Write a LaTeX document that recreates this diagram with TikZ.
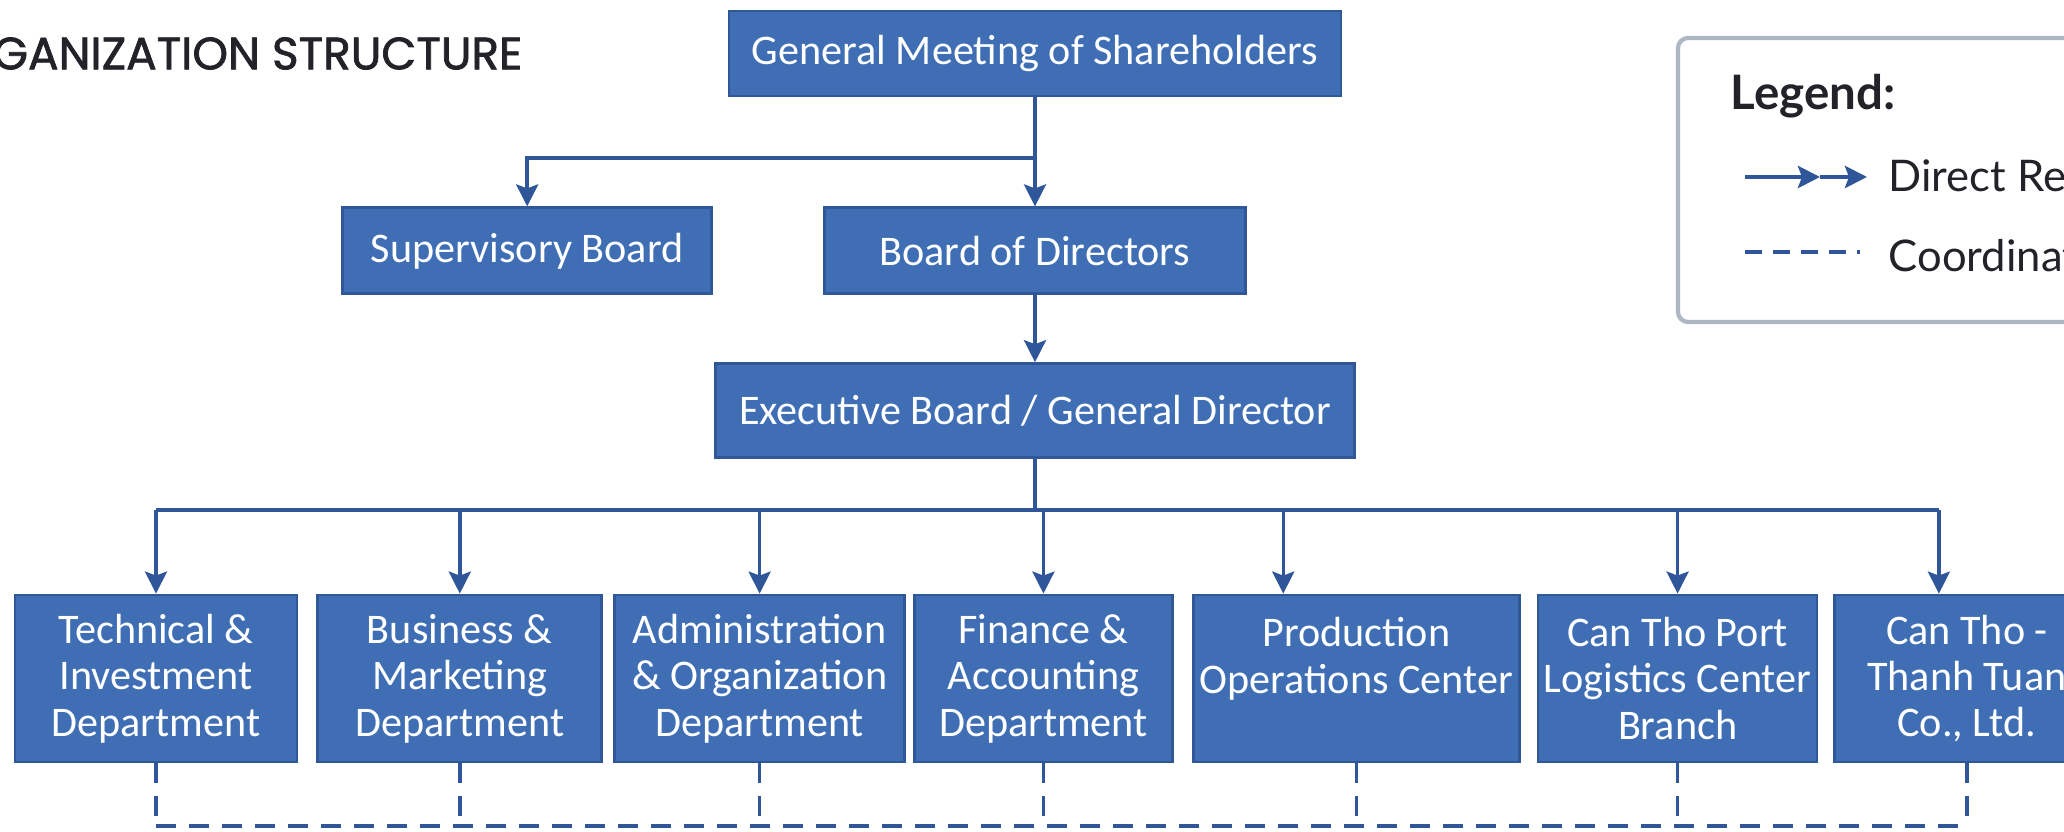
\documentclass[tikz,border=0pt]{standalone}
\usepackage{fontspec}
\setmainfont{Carlito}
\newfontfamily\titlefont{Poppins}[FakeBold=1.6]
\newfontfamily\legendfont{Lato}
\usepackage{tikz}
\usetikzlibrary{positioning, arrows.meta}
\definecolor{boxblue}{RGB}{63,110,181}
\definecolor{boxedge}{RGB}{48,88,152}
\definecolor{linkblue}{RGB}{46,86,152}
\definecolor{legendgray}{RGB}{172,182,196}
\definecolor{titleink}{RGB}{34,34,40}
\tikzset{
    orgbox/.style={rectangle, draw=boxedge, fill=boxblue, line width=0.8pt, text=white, align=center, inner sep=0pt, font=\fontsize{12}{13.2}\selectfont},
    topbox/.style={orgbox, minimum height=0.86cm},
    deptbox/.style={orgbox, minimum height=1.67cm},
    link/.style={draw=linkblue, line width=1pt, -{Stealth[length=0.22cm, width=0.22cm, inset=0.04cm]}},
    bar/.style={draw=linkblue, line width=1pt},
    coordlink/.style={draw=linkblue, line width=1pt, dash pattern=on 0.2cm off 0.13cm},
    legendtext/.style={anchor=base west, inner sep=0pt, text=titleink, font=\legendfont\fontsize{12.4}{14}\selectfont},
}

\begin{document}
\begin{tikzpicture}
        \useasboundingbox (0,0) rectangle (20.64,-8.32);
        % title, cut at the left edge
        \node [anchor=east, inner sep=0pt, text=titleink, font=\titlefont\fontsize{12.9}{15}\selectfont] (title) at (5.23,-0.535) {ORGANIZATION STRUCTURE};
        % top of the chart
        \node [topbox, minimum width=6.12cm, minimum height=0.85cm] (gms) at (10.35,-0.535) {General Meeting of Shareholders};
        \node [topbox, minimum width=4.21cm] (bod) [below=1.09cm of gms] {Board of Directors};
        \node [topbox, minimum width=3.69cm] (sup) [left=1.10cm of bod] {Supervisory Board};
        \node [topbox, minimum width=6.39cm, minimum height=0.94cm] (exec) [below=0.67cm of bod] {Executive Board / General Director};
        % departments and units
        \node [deptbox, minimum width=2.82cm] (tech) at (1.56,-6.785) {Technical \&\\Investment\\Department};
        \node [deptbox, minimum width=2.84cm] (biz) [right=0.18cm of tech] {Business \&\\Marketing\\Department};
        \node [deptbox, minimum width=2.90cm] (admin) [right=0.10cm of biz] {Administration\\\& Organization\\Department};
        \node [deptbox, minimum width=2.58cm] (fin) [right=0.07cm of admin] {Finance \&\\Accounting\\Department};
        \node [deptbox, minimum width=3.26cm] (prod) [right=0.18cm of fin] {Production\\Operations Center\\\mbox{}};
        \node [deptbox, minimum width=2.79cm] (port) [right=0.16cm of prod] {Can Tho Port\\Logistics Center\\Branch};
        \node [deptbox, minimum width=2.64cm] (ttc) [right=0.15cm of port] {Can Tho -\\Thanh Tuan\\Co., Ltd.};
        \coordinate (fork) at (10.35,-1.58);
        \coordinate (bus) at (0,-5.10);
        \coordinate (dash) at (0,-8.26);
        \draw[link] (gms) -- (bod);
        \draw[link] (fork) -| (sup);
        \draw[link] (bod) -- (exec);
        \draw[bar] (exec.south) -- (exec.south |- bus);
        \draw[bar] (tech.north |- bus) -- ([xshift=-0.28cm]ttc.north |- bus);
        \foreach \n in {tech,biz,admin,fin,port}
            \draw[link] (\n.north |- bus) -- (\n.north);
        \draw[link] ([xshift=-0.73cm]prod.north |- bus) -- ([xshift=-0.73cm]prod.north);
        \draw[link] ([xshift=-0.28cm]ttc.north |- bus) -- ([xshift=-0.28cm]ttc.north);
        \foreach \n in {tech,biz,admin,fin,prod,port,ttc}
            \draw[coordlink] (\n.south) -- (\n.south |- dash);
        \draw[coordlink] (tech.south |- dash) -- (ttc.south |- dash);
        % legend
        \draw[legendgray, line width=1.2pt, rounded corners=0.1cm, fill=white] (16.78,-0.38) rectangle (21.3,-3.22);
        \node [legendtext, font=\legendfont\bfseries\fontsize{13.5}{16}\selectfont] (legtitle) at (17.30,-1.10) {Legend:};
        \coordinate (la) at (17.45,-1.77);
        \coordinate (lm) at (18.20,-1.77);
        \coordinate (lb) at (18.67,-1.77);
        \draw[link, line width=1.3pt] (la) -- (lm);
        \draw[link, line width=1.3pt] (lm) -- (lb);
        \node [legendtext] (legdirect) at (18.88,-1.92) {Direct Reporting};
        \coordinate (lc) at (17.45,-2.52);
        \coordinate (ld) at (18.60,-2.52);
        \draw[coordlink, line width=1.2pt, dash pattern=on 0.17cm off 0.11cm] (lc) -- (ld);
        \node [legendtext] (legcoord) at (18.88,-2.72) {Coordination};
    \end{tikzpicture}
\end{document}
